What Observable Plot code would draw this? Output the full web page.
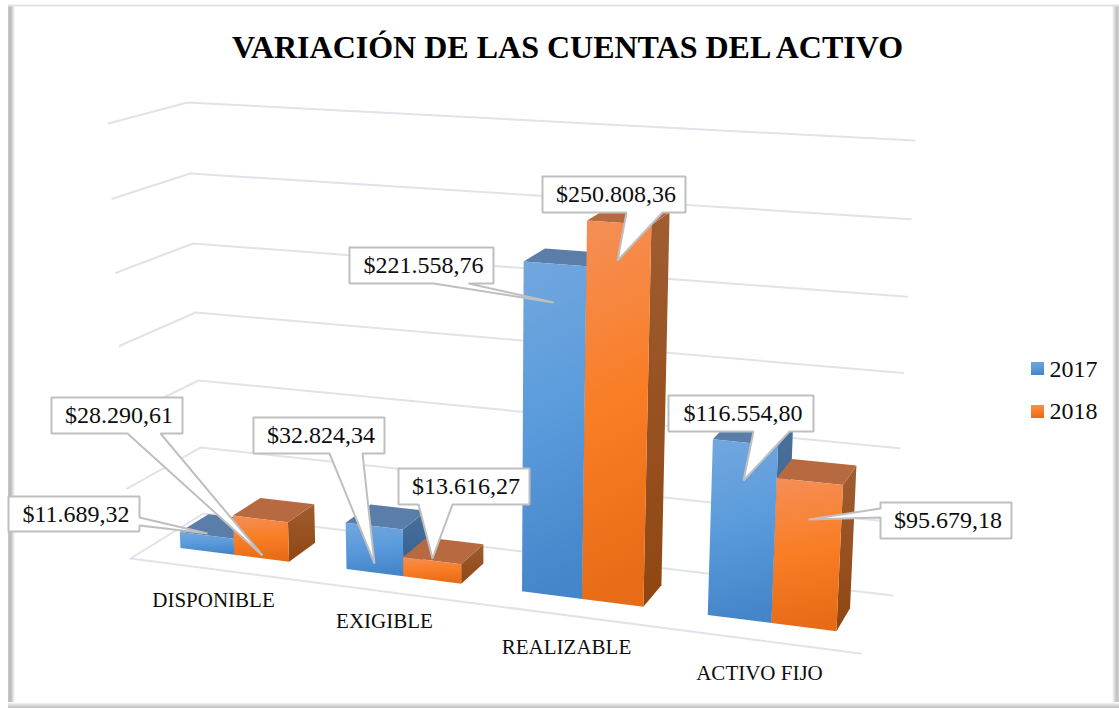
<!DOCTYPE html>
<html><head><meta charset="utf-8">
<style>html,body{margin:0;padding:0;background:#fff}svg{display:block}</style>
<script src="https://cdn.jsdelivr.net/npm/d3@7"></script>
<script src="https://cdn.jsdelivr.net/npm/@observablehq/plot@0.6"></script>
</head><body><div id="chart"></div>
<script>
const titleText = "VARIACIÓN DE LAS CUENTAS DEL ACTIVO";
const categories = ["DISPONIBLE", "EXIGIBLE", "REALIZABLE", "ACTIVO FIJO"];
const years = ["2017", "2018"];
const values2017 = [11689.32, 32824.34, 221558.76, 116554.80];
const values2018 = [28290.61, 13616.27, 250808.36, 95679.18];
const gridLevels = [0, 50000, 100000, 150000, 200000, 250000, 300000];

// Layout of the pseudo-3D box (page pixels at the corners of the chart's cube)
const corners = {
  floor: {fl: [130, 558], fr: [860, 653], bl: [203, 513], br: [892, 595]},
  top:   {fl: [108, 123], fr: [884, 169], bl: [187, 102], br: [914, 140]}
};
const vMax = 300000, perspective = 1.12, heightPerspective = 1.045, depth0 = 0.31, depth1 = 0.71, groupSpan = 0.66;
const mix = (a, b, t) => [a[0] + (b[0] - a[0]) * t, a[1] + (b[1] - a[1]) * t];
function project(u, value, w) {
  const t = u / (u + perspective * (1 - u));
  const h = value / vMax;
  const s = h / (h + heightPerspective * (1 - h));
  const at = (c) => mix(mix(c.fl, c.fr, t), mix(c.bl, c.br, t), w);
  return mix(at(corners.floor), at(corners.top), s);
}

const seriesStyle = [
  {front: "url(#front2017)", top: "#5a7ea8", side: "url(#side2017)"},
  {front: "url(#front2018)", top: "#b76a40", side: "url(#side2018)"}
];
const polygon = (pts, o) => Plot.line([...pts, pts[0]], {x: (d) => d[0], y: (d) => d[1], ...o});

const barMarks = [];
categories.forEach((cat, i) => {
  [values2017[i], values2018[i]].forEach((v, s) => {
    const bw = groupSpan * 0.25 / 2;
    const u0 = (i + 0.5) * 0.25 + (s - 1) * bw, u1 = u0 + bw;
    const st = seriesStyle[s];
    barMarks.push(polygon([project(u1, v, depth0), project(u1, v, depth1), project(u1, 0, depth1), project(u1, 0, depth0)], {fill: st.side, stroke: "none"}));
    barMarks.push(polygon([project(u0, v, depth0), project(u0, v, depth1), project(u1, v, depth1), project(u1, v, depth0)], {fill: st.top, stroke: "none"}));
    barMarks.push(polygon([project(u0, v, depth0), project(u1, v, depth0), project(u1, 0, depth0), project(u0, 0, depth0)], {fill: st.front, stroke: "none"}));
  });
});

const gridMarks = gridLevels.map((v) =>
  Plot.line([project(0, v, 0), project(0, v, 1), project(1, v, 1)], {x: (d) => d[0], y: (d) => d[1], stroke: "#dfe3ea", strokeWidth: 2})
);
gridMarks.push(Plot.line([project(0, 0, 0), project(1, 0, 0)], {x: (d) => d[0], y: (d) => d[1], stroke: "#dfe3ea", strokeWidth: 2}));

const money = d3.formatLocale({decimal: ",", thousands: ".", grouping: [3], currency: ["$", ""]}).format("$,.2f");

// Callout layout: box [x1,y1,x2,y2], pointer base points, tip
const calloutLayout = [
  {v: values2017[0], box: [8, 496, 139, 531], side: "right", base: [517, 525], tip: [207, 533]},
  {v: values2018[0], box: [51, 397, 182, 433], side: "bottom", base: [127, 160], tip: [262, 555]},
  {v: values2017[1], box: [253, 417, 384, 453], side: "bottom", base: [329, 362], tip: [374, 563]},
  {v: values2018[1], box: [398, 468, 529, 504], side: "bottom", base: [418, 452], tip: [432, 558]},
  {v: values2017[2], box: [349, 247, 493, 283], side: "bottom", base: [433, 468], tip: [553, 302]},
  {v: values2018[2], box: [542, 176, 685, 212], side: "bottom", base: [626, 662], tip: [617, 260]},
  {v: values2017[3], box: [668, 395, 813, 431], side: "bottom", base: [753, 789], tip: [743, 480]},
  {v: values2018[3], box: [880, 502, 1011, 538], side: "left", base: [508, 517], tip: [808, 519]}
];
function calloutPoints(c) {
  const [x1, y1, x2, y2] = c.box, [a, b] = c.base;
  if (c.side === "bottom") return [[x1, y1], [x2, y1], [x2, y2], [b, y2], c.tip, [a, y2], [x1, y2]];
  if (c.side === "right") return [[x1, y1], [x2, y1], [x2, a], c.tip, [x2, b], [x2, y2], [x1, y2]];
  return [[x1, y1], [x2, y1], [x2, y2], [x1, y2], [x1, b], c.tip, [x1, a]];
}
const calloutMarks = calloutLayout.map((c) =>
  polygon(calloutPoints(c), {fill: "#fff", stroke: "#bfbfbf", strokeWidth: 2, strokeLinejoin: "miter"})
);

const serif = "'Liberation Serif'";
const categoryLabelPos = [[213, 600], [384, 621], [566, 647], [759, 673]];
const legendPos = [{sw: [1031, 362, 1044, 375], text: [1049, 369]}, {sw: [1031, 405, 1044, 418], text: [1049, 411]}];
const frameRects = [
  {x1: 8, x2: 15, y1: 5, y2: 708, fill: "url(#frameL)"},
  {x1: 1112, x2: 1119, y1: 5, y2: 708, fill: "url(#frameR)"},
  {x1: 8, x2: 1119, y1: 702, y2: 708, fill: "url(#frameB)"},
  {x1: 8, x2: 1119, y1: 4.5, y2: 6.5, fill: "#e0e3ea"}
];

const plot = Plot.plot({
  width: 1119, height: 708, margin: 0,
  x: {domain: [0, 1119], range: [0, 1119], axis: null},
  y: {domain: [0, 708], range: [0, 708], axis: null},
  style: {background: "#fff"},
  marks: [
    Plot.rect(frameRects, {x1: "x1", x2: "x2", y1: "y1", y2: "y2", fill: "fill"}),
    ...gridMarks,
    ...barMarks,
    ...calloutMarks,
    Plot.text(calloutLayout, {
      x: (c) => (c.box[0] + c.box[2]) / 2 + 2, y: (c) => (c.box[1] + c.box[3]) / 2,
      text: (c) => money(c.v), fontFamily: serif, fontSize: 24, fill: "#0d0d0d", lineAnchor: "middle"
    }),
    Plot.text(categories, {
      x: (d, i) => categoryLabelPos[i][0], y: (d, i) => categoryLabelPos[i][1],
      text: (d) => d, fontFamily: serif, fontSize: 21, fill: "#0d0d0d", lineAnchor: "middle"
    }),
    Plot.rect(legendPos, {x1: (d) => d.sw[0], y1: (d) => d.sw[1], x2: (d) => d.sw[2], y2: (d) => d.sw[3],
      fill: (d, i) => seriesStyle[i].front}),
    Plot.text(years, {
      x: (d, i) => legendPos[i].text[0], y: (d, i) => legendPos[i].text[1],
      text: (d) => d, textAnchor: "start", fontFamily: serif, fontSize: 24, fill: "#0d0d0d", lineAnchor: "middle"
    }),
    Plot.text([titleText], {
      x: () => 567, y: () => 47, text: (d) => d, fontFamily: serif, fontWeight: "bold", fontSize: 32, fill: "#000", lineAnchor: "middle"
    })
  ]
});

const defs = `
<linearGradient id="front2017" x1="0" y1="0" x2="0.1" y2="1"><stop offset="0" stop-color="#72a7de"/><stop offset="0.5" stop-color="#5a9bdc"/><stop offset="1" stop-color="#4585c9"/></linearGradient>
<linearGradient id="front2018" x1="0" y1="0" x2="0.1" y2="1"><stop offset="0" stop-color="#f48f58"/><stop offset="0.5" stop-color="#f97e26"/><stop offset="1" stop-color="#e86c17"/></linearGradient>
<linearGradient id="side2017" x1="0" y1="0" x2="0" y2="1"><stop offset="0" stop-color="#4a7099"/><stop offset="1" stop-color="#2f5f93"/></linearGradient>
<linearGradient id="side2018" x1="0" y1="0" x2="0" y2="1"><stop offset="0" stop-color="#a05d31"/><stop offset="1" stop-color="#8f4611"/></linearGradient>
<linearGradient id="frameL" x1="0" x2="1" y1="0" y2="0"><stop offset="0" stop-color="#c4c6c8"/><stop offset="0.4" stop-color="#b9bbbd"/><stop offset="1" stop-color="#fff"/></linearGradient>
<linearGradient id="frameR" x1="1" x2="0" y1="0" y2="0"><stop offset="0" stop-color="#d0d0d0"/><stop offset="0.4" stop-color="#c2c2c2"/><stop offset="1" stop-color="#fff"/></linearGradient>
<linearGradient id="frameB" x1="0" x2="0" y1="1" y2="0"><stop offset="0" stop-color="#bdbdbd"/><stop offset="1" stop-color="#fff"/></linearGradient>`;
const defsNode = document.createElementNS("http://www.w3.org/2000/svg", "defs");
defsNode.innerHTML = defs;
plot.insertBefore(defsNode, plot.firstChild);
document.getElementById("chart").append(plot);
</script></body></html>
